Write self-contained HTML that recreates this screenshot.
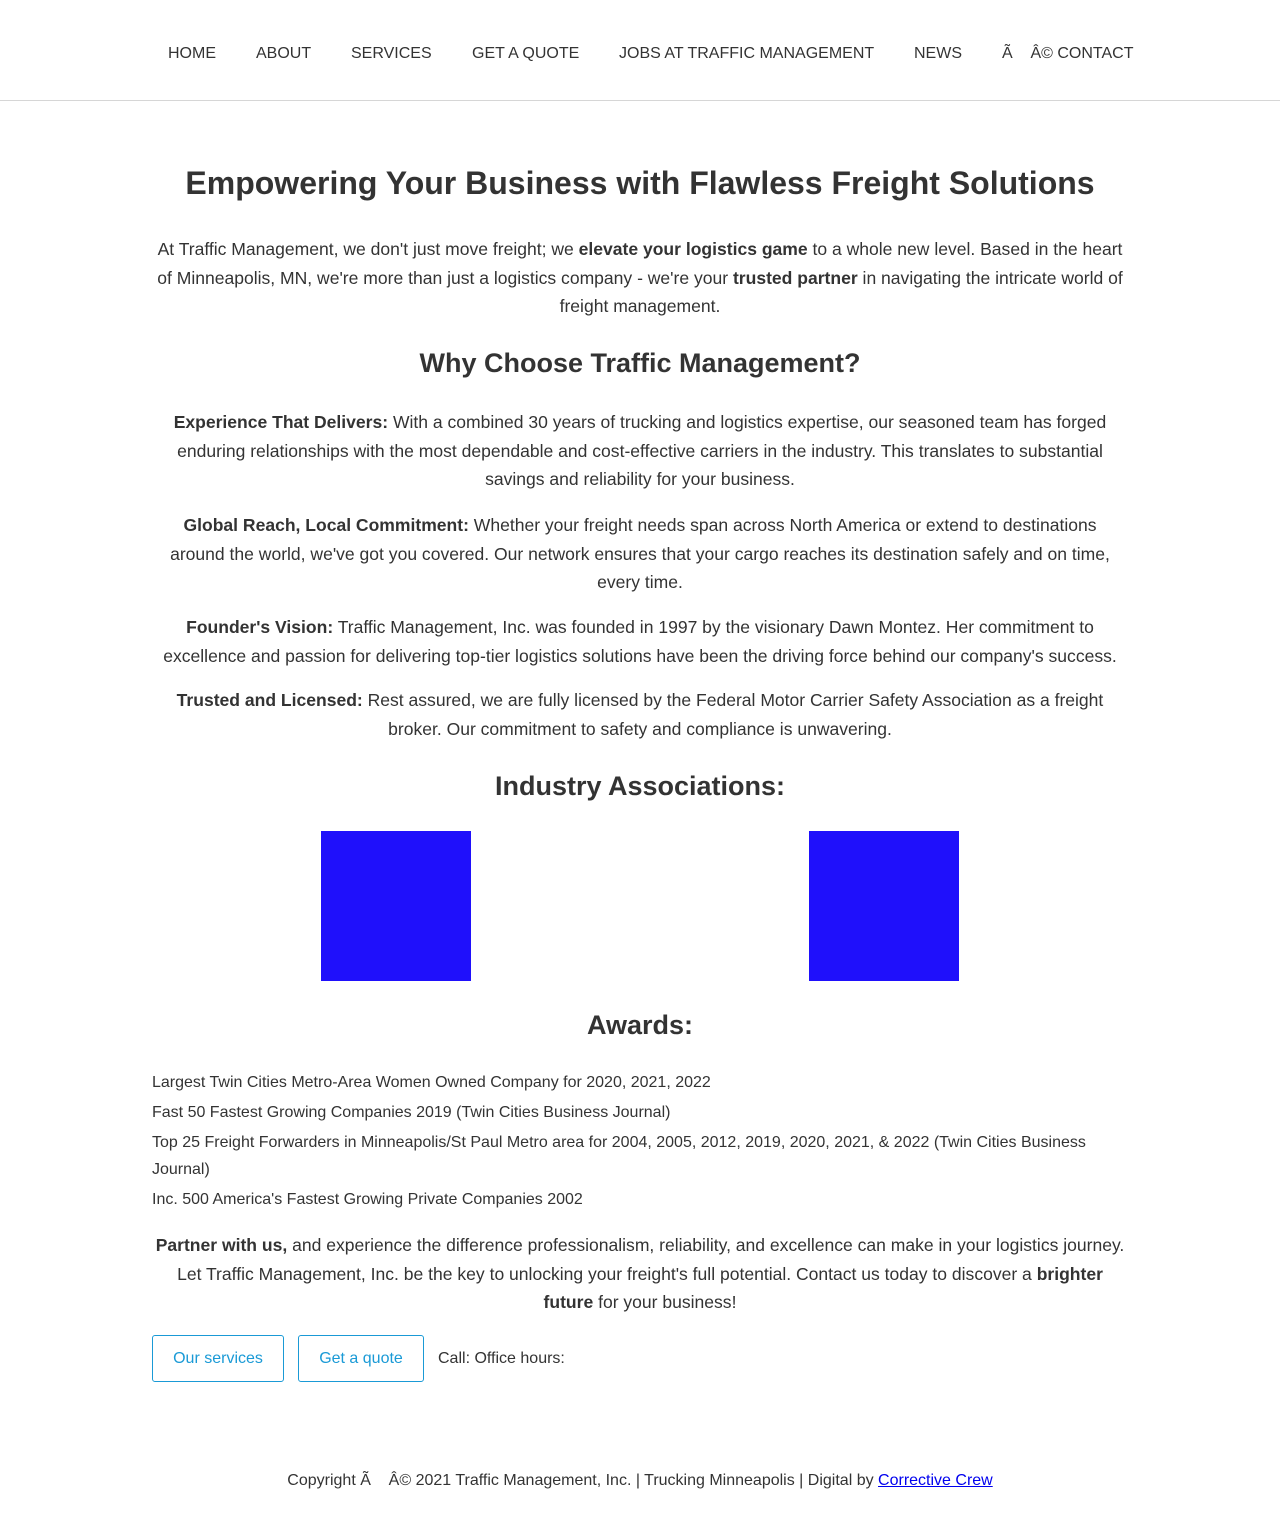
<!DOCTYPE html>
<html><head><meta charset="utf-8"><style>
body{margin:0;width:1280px;height:1530px;position:relative;background:#fff;font-family:"Liberation Sans",Arial,sans-serif;color:#333;overflow:hidden}
.a{position:absolute}
nav{position:absolute;top:0;left:0;width:1280px;height:100px;border-bottom:1px solid #d6d6d6}
nav span{position:absolute;top:44px;font-size:16px;line-height:20px;color:#333}
.c{left:100px;width:1080px;text-align:center;white-space:nowrap}
h1,h2{margin:0;font-weight:bold;text-align:center}
h1{font-size:32px;line-height:40px}
h2{font-size:27px;line-height:34px}
p{margin:0;font-size:17.55px;line-height:28.7px}
.aw{left:152px;width:976px;font-size:16px;line-height:27px;white-space:nowrap}
.btn{position:absolute;top:1335px;height:45px;border:1px solid #1a9ad6;border-radius:3px;color:#1a9ad6;font-size:16px;line-height:45px;text-align:center}
.sq{position:absolute;top:831px;width:150px;height:150px;background:#1f10fb}
</style></head><body>
<nav>
<span style="left:168px">HOME</span>
<span style="left:256px">ABOUT</span>
<span style="left:351px">SERVICES</span>
<span style="left:472px">GET A QUOTE</span>
<span style="left:619px">JOBS AT TRAFFIC MANAGEMENT</span>
<span style="left:914px">NEWS</span>
<span style="left:1002px;white-space:pre">Ã    Â© CONTACT</span>
</nav>
<h1 class="a c" style="top:163px">Empowering Your Business with Flawless Freight Solutions</h1>
<p class="a c" style="top:235px">At Traffic Management, we don't just move freight; we <b>elevate your logistics game</b> to a whole new level. Based in the heart<br>of Minneapolis, MN, we're more than just a logistics company - we're your <b>trusted partner</b> in navigating the intricate world of<br>freight management.</p>
<h2 class="a c" style="top:346px">Why Choose Traffic Management?</h2>
<p class="a c" style="top:408px"><b>Experience That Delivers:</b> With a combined 30 years of trucking and logistics expertise, our seasoned team has forged<br>enduring relationships with the most dependable and cost-effective carriers in the industry. This translates to substantial<br>savings and reliability for your business.</p>
<p class="a c" style="top:511px"><b>Global Reach, Local Commitment:</b> Whether your freight needs span across North America or extend to destinations<br>around the world, we've got you covered. Our network ensures that your cargo reaches its destination safely and on time,<br>every time.</p>
<p class="a c" style="top:613px"><b>Founder's Vision:</b> Traffic Management, Inc. was founded in 1997 by the visionary Dawn Montez. Her commitment to<br>excellence and passion for delivering top-tier logistics solutions have been the driving force behind our company's success.</p>
<p class="a c" style="top:686px"><b>Trusted and Licensed:</b> Rest assured, we are fully licensed by the Federal Motor Carrier Safety Association as a freight<br>broker. Our commitment to safety and compliance is unwavering.</p>
<h2 class="a c" style="top:769px">Industry Associations:</h2>
<div class="sq" style="left:321px"></div>
<div class="sq" style="left:809px"></div>
<h2 class="a c" style="top:1008px">Awards:</h2>
<div class="a aw" style="top:1069px">Largest Twin Cities Metro-Area Women Owned Company for 2020, 2021, 2022</div>
<div class="a aw" style="top:1099px">Fast 50 Fastest Growing Companies 2019 (Twin Cities Business Journal)</div>
<div class="a aw" style="top:1129px">Top 25 Freight Forwarders in Minneapolis/St Paul Metro area for 2004, 2005, 2012, 2019, 2020, 2021, &amp; 2022 (Twin Cities Business<br>Journal)</div>
<div class="a aw" style="top:1186px">Inc. 500 America's Fastest Growing Private Companies 2002</div>
<p class="a c" style="top:1231px"><b>Partner with us,</b> and experience the difference professionalism, reliability, and excellence can make in your logistics journey.<br>Let Traffic Management, Inc. be the key to unlocking your freight's full potential. Contact us today to discover a <b>brighter<br>future</b> for your business!</p>
<div class="btn" style="left:152px;width:130px">Our services</div>
<div class="btn" style="left:298px;width:124px">Get a quote</div>
<div class="a" style="left:438px;top:1349px;font-size:16px;line-height:20px">Call: Office hours:</div>
<div class="a" style="left:0;width:1280px;top:1471px;text-align:center;font-size:16px;line-height:20px;white-space:pre">Copyright Ã    Â© 2021 Traffic Management, Inc. | Trucking Minneapolis | Digital by <a href="#" style="color:#00e">Corrective Crew</a></div>
</body></html>
